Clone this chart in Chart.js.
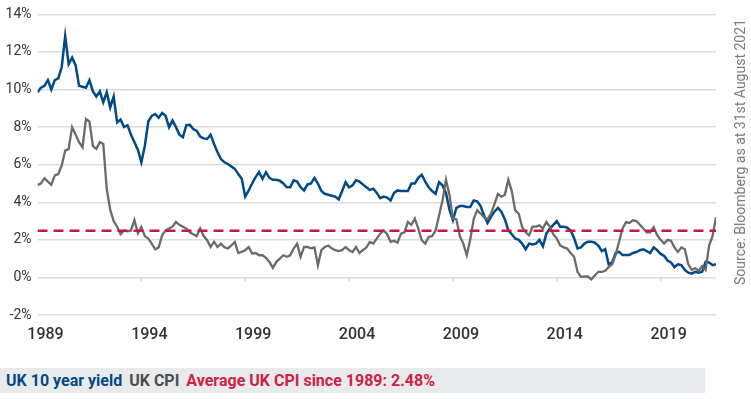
<!DOCTYPE html>
<html>
<head>
<meta charset="utf-8">
<script src="https://cdn.jsdelivr.net/npm/chart.js@4.4.1/dist/chart.umd.min.js"></script>
<style>
  body { margin: 0; background: #fff; font-family: Roboto, "Liberation Sans", sans-serif; }
  #wrap { position: relative; width: 751px; height: 399px; overflow: hidden; }
  #chart { position: absolute; left: 0; top: 0; }
  #legend { position: absolute; left: 0; top: 368px; width: 705px; height: 25px; background: #e9eaeb;
            font-size: 16px; font-weight: 700; line-height: 25px; white-space: nowrap; display: flex; }
  #legend span { margin-left: 7px; }
  #legend span:first-child { margin-left: 6px; }
  #source { position: absolute; left: 740px; top: 152px; transform: translate(-50%, -50%) rotate(-90deg);
            font-size: 14px; color: #7a7a7a; white-space: nowrap; }
</style>
</head>
<body>
<div id="wrap">
  <canvas id="chart" width="751" height="350"></canvas>
  <div id="legend"><span style="color:#024a86">UK 10 year yield</span><span style="color:#4d4d4d">UK CPI</span><span style="color:#cf2146">Average UK CPI since 1989: 2.48%</span></div>
  <div id="source">Source: Bloomberg as at 31st August 2021</div>
</div>
<script>
// bi-monthly readings, starting Jan 1989
const startYear = 1989;
const stepYears = 1 / 6;

const ukYield = [
  9.85, 10.1, 10.2, 10.5, 10.0, 10.5,   // 1989
  10.6, 11.2, 12.85, 11.35, 11.7, 11.3, // 1990
  10.2, 10.15, 10.1, 10.5, 9.9, 9.63,   // 1991
  9.9, 9.32, 9.85, 9.05, 9.63, 8.25,    // 1992
  8.4, 8.0, 8.1, 7.6, 7.2, 6.8,         // 1993
  6.13, 7.0, 8.3, 8.6, 8.7, 8.5,        // 1994
  8.75, 8.6, 8.0, 8.35, 8.0, 7.6,       // 1995
  7.46, 8.1, 8.12, 7.9, 7.8, 7.5,       // 1996
  7.4, 7.37, 7.6, 7.1, 6.66, 6.3,       // 1997
  6.13, 6.04, 5.9, 5.78, 5.5, 5.25,     // 1998
  4.3, 4.63, 5.0, 5.34, 5.6, 5.25,      // 1999
  5.6, 5.3, 5.2, 5.2, 5.15, 5.0,        // 2000
  4.8, 4.8, 5.17, 5.1, 4.8, 4.63,       // 2001
  4.95, 5.0, 5.3, 5.0, 4.6, 4.45,       // 2002
  4.4, 4.35, 4.3, 4.15, 4.6, 5.07,      // 2003
  4.8, 4.9, 5.17, 5.1, 4.95, 4.8,       // 2004
  4.66, 4.72, 4.5, 4.22, 4.3, 4.25,     // 2005
  4.1, 4.5, 4.63, 4.6, 4.6, 4.6,        // 2006
  5.0, 5.0, 5.3, 5.46, 5.1, 4.8,        // 2007
  4.6, 4.45, 5.07, 4.9, 4.5, 3.6,       // 2008
  3.04, 3.7, 3.8, 3.8, 3.75, 3.75,      // 2009
  4.1, 4.05, 3.8, 3.3, 2.9, 3.22,       // 2010
  3.5, 3.7, 3.5, 3.1, 2.5, 2.3,         // 2011
  2.07, 2.0, 1.8, 1.5, 1.8, 1.75,       // 2012
  1.8, 2.0, 1.65, 2.33, 2.6, 2.8,       // 2013
  3.0, 2.7, 2.7, 2.65, 2.5, 2.1,        // 2014
  1.54, 1.6, 1.8, 1.9, 1.9, 1.85,       // 2015
  1.7, 1.4, 1.5, 0.7, 0.8, 1.3,         // 2016
  1.36, 1.2, 1.2, 1.2, 1.3, 1.35,       // 2017
  1.45, 1.5, 1.4, 1.3, 1.6, 1.45,       // 2018
  1.25, 1.15, 0.9, 0.8, 0.55, 0.7,      // 2019
  0.65, 0.4, 0.25, 0.2, 0.3, 0.25,      // 2020
  0.3, 0.83, 0.8, 0.65, 0.7             // 2021
];

const ukCpi = [
  4.93, 5.0, 5.28, 5.1, 4.93, 5.43,     // 1989
  5.5, 5.96, 6.75, 6.84, 8.0, 7.6,      // 1990
  7.2, 6.93, 8.43, 8.3, 7.0, 6.84,      // 1991
  7.2, 7.1, 4.72, 3.6, 3.0, 2.7,        // 1992
  2.3, 2.5, 2.45, 2.5, 3.05, 2.35,      // 1993
  2.68, 2.2, 2.07, 1.8, 1.5, 1.6,       // 1994
  2.24, 2.5, 2.6, 2.7, 2.95, 2.8,       // 1995
  2.7, 2.6, 2.4, 2.3, 2.2, 2.6,         // 1996
  2.2, 1.98, 1.62, 1.9, 1.62, 1.8,      // 1997
  1.6, 1.54, 1.7, 1.89, 1.3, 1.36,      // 1998
  1.45, 1.62, 1.27, 1.3, 1.18, 1.18,    // 1999
  1.04, 0.83, 0.51, 0.83, 1.0, 1.18,    // 2000
  1.1, 1.18, 1.54, 1.8, 1.1, 1.62,      // 2001
  1.62, 1.55, 1.6, 0.65, 1.45, 1.62,    // 2002
  1.7, 1.55, 1.45, 1.4, 1.45, 1.62,     // 2003
  1.45, 1.35, 1.62, 1.3, 1.45, 1.6,     // 2004
  1.89, 1.8, 2.07, 2.33, 2.5, 2.3,      // 2005
  1.89, 1.95, 1.85, 2.33, 2.4, 2.95,    // 2006
  2.8, 3.13, 2.6, 1.98, 1.8, 2.15,      // 2007
  2.2, 2.5, 3.3, 4.1, 5.2, 4.4,         // 2008
  3.13, 3.1, 2.2, 1.8, 1.18, 2.0,       // 2009
  3.1, 3.57, 3.4, 3.2, 3.1, 3.4,        // 2010
  3.9, 4.45, 4.3, 4.4, 5.2, 4.6,        // 2011
  3.57, 3.4, 2.68, 2.4, 2.24, 2.7,      // 2012
  2.7, 2.77, 2.6, 2.95, 2.7, 2.3,       // 2013
  2.07, 1.7, 1.6, 1.54, 1.3, 1.1,       // 2014
  0.3, 0.03, 0.05, 0.05, -0.1, 0.1,     // 2015
  0.3, 0.3, 0.35, 0.55, 0.7, 1.2,       // 2016
  1.9, 2.6, 2.95, 2.9, 3.04, 3.0,       // 2017
  2.8, 2.6, 2.4, 2.4, 2.68, 2.25,       // 2018
  2.0, 1.8, 2.0, 1.95, 1.6, 1.36,       // 2019
  1.6, 1.5, 0.7, 0.4, 0.5, 0.35,        // 2020
  0.6, 0.4, 1.7, 2.2, 3.2               // 2021
];

const avgCpi = 2.48;
const yearTicks = [1989, 1994, 1999, 2004, 2009, 2014, 2019];
const endYear = startYear + (ukYield.length - 1) * stepYears;

const toPoints = vals => vals.map((v, i) => ({ x: startYear + i * stepYears, y: v }));

// small notches on the 0% line at each labelled year
const zeroNotches = {
  id: 'zeroNotches',
  afterDatasetsDraw(chart) {
    const { ctx, scales: { x, y } } = chart;
    const y0 = y.getPixelForValue(0);
    ctx.save();
    ctx.strokeStyle = '#d0d0d0';
    ctx.lineWidth = 1.2;
    yearTicks.slice(1).forEach(t => {
      const px = x.getPixelForValue(t);
      ctx.beginPath();
      ctx.moveTo(px, y0);
      ctx.lineTo(px, y0 + 4);
      ctx.stroke();
    });
    ctx.restore();
  }
};

const ctx = document.getElementById('chart').getContext('2d');
new Chart(ctx, {
  type: 'line',
  data: {
    datasets: [
      {
        label: 'Average UK CPI since 1989',
        data: [{ x: startYear, y: avgCpi }, { x: endYear, y: avgCpi }],
        borderColor: '#cc1443',
        borderWidth: 2.5,
        borderDash: [10, 6],
        pointRadius: 0,
        order: 0
      },
      {
        label: 'UK CPI',
        data: toPoints(ukCpi),
        borderColor: '#6a6a6a',
        borderWidth: 2.3,
        pointRadius: 0,
        order: 1
      },
      {
        label: 'UK 10 year yield',
        data: toPoints(ukYield),
        borderColor: '#024a86',
        borderWidth: 2.5,
        pointRadius: 0,
        order: 2
      }
    ]
  },
  plugins: [zeroNotches],
  options: {
    responsive: false,
    animation: false,
    layout: { padding: { top: 13, right: 35, left: 0, bottom: 0 } },
    plugins: { legend: { display: false }, tooltip: { enabled: false } },
    scales: {
      x: {
        type: 'linear',
        min: startYear,
        max: endYear,
        afterBuildTicks: s => { s.ticks = yearTicks.map(v => ({ value: v })); },
        afterFit: s => { s.height = 35; },
        grid: { display: false, drawTicks: false },
        border: { display: false },
        ticks: {
          padding: 10,
          labelOffset: 8,
          color: '#333333',
          font: { family: 'Roboto, "Liberation Sans", sans-serif', size: 16, weight: '500' },
          callback: v => String(v)
        }
      },
      y: {
        min: -2,
        max: 14,
        afterFit: s => { s.width = 37.5; },
        grid: { color: '#dcdcdc', lineWidth: 1.5, drawTicks: false },
        border: { display: false },
        ticks: {
          stepSize: 2,
          padding: 6,
          color: '#333333',
          font: { family: 'Roboto, "Liberation Sans", sans-serif', size: 14 },
          callback: v => v + '%'
        }
      }
    }
  }
});
</script>
</body>
</html>
